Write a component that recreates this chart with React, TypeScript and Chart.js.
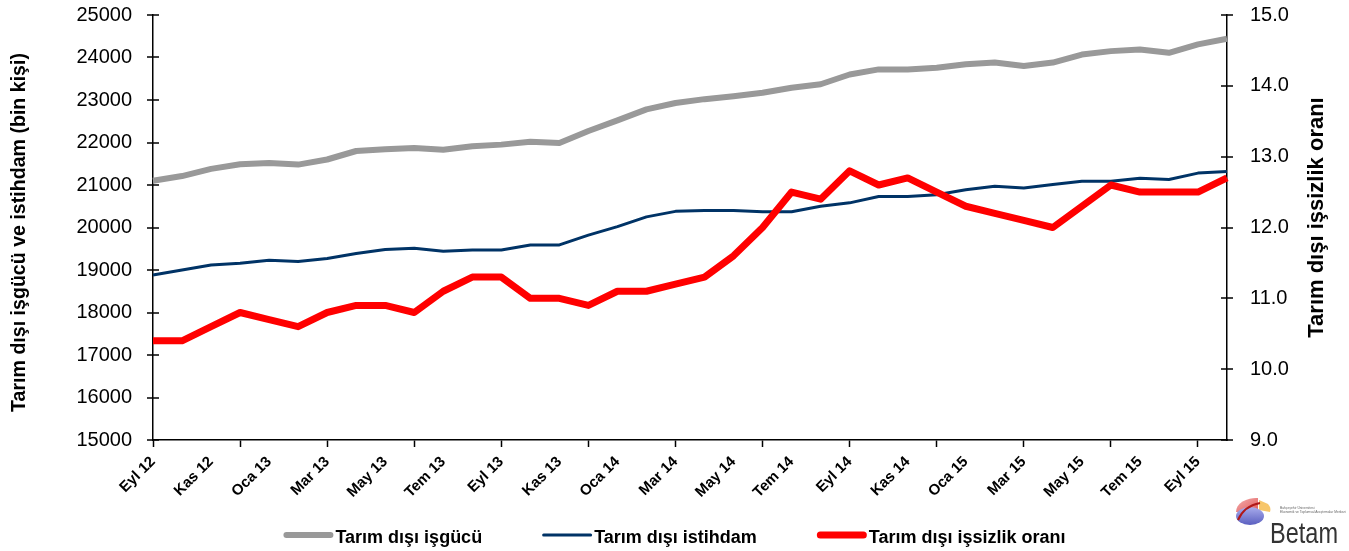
import React, { useEffect, useRef } from 'react';
import { Chart, registerables } from 'chart.js';

Chart.register(...registerables);

const FONT = '"Liberation Sans", Arial, Helvetica, sans-serif';

// Months from Eyl 12 to Eki 15
const monthLabels = [
  'Eyl 12', 'Eki 12', 'Kas 12', 'Ara 12', 'Oca 13', 'Şub 13', 'Mar 13', 'Nis 13', 'May 13', 'Haz 13',
  'Tem 13', 'Ağu 13', 'Eyl 13', 'Eki 13', 'Kas 13', 'Ara 13', 'Oca 14', 'Şub 14', 'Mar 14', 'Nis 14',
  'May 14', 'Haz 14', 'Tem 14', 'Ağu 14', 'Eyl 14', 'Eki 14', 'Kas 14', 'Ara 14', 'Oca 15', 'Şub 15',
  'Mar 15', 'Nis 15', 'May 15', 'Haz 15', 'Tem 15', 'Ağu 15', 'Eyl 15', 'Eki 15',
];

// Tarım dışı işgücü (bin kişi)
const laborForce = [
  21100, 21210, 21380, 21490, 21520, 21480, 21600, 21800, 21840, 21870,
  21830, 21910, 21950, 22020, 21990, 22270, 22520, 22780, 22930, 23020,
  23090, 23170, 23290, 23370, 23600, 23720, 23720, 23760, 23840, 23880,
  23800, 23880, 24070, 24150, 24190, 24110, 24310, 24440,
];

// Tarım dışı istihdam (bin kişi)
const employment = [
  18880, 19000, 19120, 19160, 19230, 19200, 19270, 19390, 19480, 19510,
  19440, 19470, 19470, 19590, 19590, 19820, 20020, 20250, 20380, 20400,
  20400, 20370, 20370, 20500, 20580, 20730, 20730, 20770, 20890, 20970,
  20930, 21010, 21090, 21090, 21160, 21130, 21280, 21320,
];

// Tarım dışı işsizlik oranı (%)
const unemploymentRate = [
  10.4, 10.4, 10.6, 10.8, 10.7, 10.6, 10.8, 10.9, 10.9, 10.8,
  11.1, 11.3, 11.3, 11.0, 11.0, 10.9, 11.1, 11.1, 11.2, 11.3,
  11.6, 12.0, 12.5, 12.4, 12.8, 12.6, 12.7, 12.5, 12.3, 12.2,
  12.1, 12.0, 12.3, 12.6, 12.5, 12.5, 12.5, 12.7,
];

const seriesNames = ['Tarım dışı işgücü', 'Tarım dışı istihdam', 'Tarım dışı işsizlik oranı'];
const seriesColors = ['#999999', '#003366', '#ff0000'];
const seriesWidths = [6, 3, 7];

const leftTitle = 'Tarım dışı işgücü ve istihdam (bin kişi)';
const rightTitle = 'Tarım dışı işsizlik oranı';

// Draws short cross tick marks on both value axes
const crossTicksPlugin = {
  id: 'crossTicks',
  afterDraw(chart: any) {
    const ctx = chart.ctx;
    ctx.save();
    ctx.strokeStyle = '#000';
    ctx.lineWidth = 1.5;
    ['y', 'y1'].forEach((id) => {
      const s = chart.scales[id];
      const x = id === 'y' ? s.right : s.left;
      s.ticks.forEach((_t: any, i: number) => {
        const p = Math.round(s.getPixelForTick(i));
        ctx.beginPath();
        ctx.moveTo(x - 6, p);
        ctx.lineTo(x + 6, p);
        ctx.stroke();
      });
    });
    ctx.restore();
  },
};

// Both axis titles read bottom-to-top
const axisTitlesPlugin = {
  id: 'axisTitles',
  afterDraw(chart: any) {
    const ctx = chart.ctx;
    const area = chart.chartArea;
    const midY = (area.top + area.bottom) / 2;
    const draw = (text: string, x: number, y: number, size: number) => {
      ctx.save();
      ctx.translate(x, y);
      ctx.rotate(-Math.PI / 2);
      ctx.font = `bold ${size}px ${FONT}`;
      ctx.fillStyle = '#000';
      ctx.textAlign = 'center';
      ctx.textBaseline = 'middle';
      ctx.fillText(text, 0, 0);
      ctx.restore();
    };
    draw(leftTitle, area.left - 133, midY + 5, 19.6);
    draw(rightTitle, area.right + 90, midY - 10, 22);
  },
};

const legendPlugin = {
  id: 'customLegend',
  afterDraw(chart: any) {
    const ctx = chart.ctx;
    ctx.save();
    ctx.font = `bold 18px ${FONT}`;
    const sampleW = 50;
    const textGap = 2;
    const itemGap = 60;
    const widths = seriesNames.map((n) => ctx.measureText(n).width);
    const total = widths.reduce((a, b) => a + b + sampleW + textGap, 0) + itemGap * (seriesNames.length - 1);
    let x = (chart.width - total) / 2;
    const y = 535;
    seriesNames.forEach((name, i) => {
      ctx.strokeStyle = seriesColors[i];
      ctx.lineWidth = seriesWidths[i];
      ctx.lineCap = 'round';
      ctx.beginPath();
      ctx.moveTo(x + seriesWidths[i] / 2, y);
      ctx.lineTo(x + sampleW - seriesWidths[i] / 2, y);
      ctx.stroke();
      ctx.fillStyle = '#000';
      ctx.textAlign = 'left';
      ctx.textBaseline = 'alphabetic';
      ctx.fillText(name, x + sampleW + textGap, y + 8);
      x += sampleW + textGap + widths[i] + itemGap;
    });
    ctx.restore();
  },
};

export default function App() {
  const canvasRef = useRef<HTMLCanvasElement | null>(null);

  useEffect(() => {
    if (!canvasRef.current) return;
    const chart = new Chart(canvasRef.current, {
      type: 'line',
      data: {
        labels: monthLabels,
        datasets: [
          {
            label: seriesNames[0],
            data: laborForce,
            borderColor: seriesColors[0],
            backgroundColor: seriesColors[0],
            borderWidth: seriesWidths[0],
            pointRadius: 0,
            tension: 0,
            yAxisID: 'y',
            order: 2,
            borderJoinStyle: 'round',
          },
          {
            label: seriesNames[1],
            data: employment,
            borderColor: seriesColors[1],
            backgroundColor: seriesColors[1],
            borderWidth: seriesWidths[1],
            pointRadius: 0,
            tension: 0,
            yAxisID: 'y',
            order: 1,
            borderJoinStyle: 'round',
          },
          {
            label: seriesNames[2],
            data: unemploymentRate,
            borderColor: seriesColors[2],
            backgroundColor: seriesColors[2],
            borderWidth: seriesWidths[2],
            pointRadius: 0,
            tension: 0,
            yAxisID: 'y1',
            order: 0,
            borderJoinStyle: 'round',
          },
        ],
      },
      options: {
        responsive: false,
        animation: false,
        layout: { padding: { top: 15, left: 0, right: 0, bottom: 0 } },
        plugins: {
          legend: { display: false },
          tooltip: { enabled: false },
        },
        scales: {
          x: {
            type: 'category',
            offset: false,
            grid: {
              drawOnChartArea: false,
              drawTicks: true,
              tickLength: 7,
              tickWidth: 1.5,
              tickColor: (c: any) => (c.index % 3 === 0 ? '#000' : 'rgba(0,0,0,0)'),
            },
            border: { display: true, color: '#000', width: 1.5 },
            ticks: {
              autoSkip: false,
              maxRotation: 45,
              minRotation: 45,
              padding: 6,
              color: '#000',
              font: { family: FONT, size: 15, weight: 'bold' },
              callback: (_v: any, i: number) => (i % 2 === 0 ? monthLabels[i] : ''),
            },
            afterFit: (s: any) => {
              s.height = 111;
            },
          },
          y: {
            type: 'linear',
            position: 'left',
            min: 15000,
            max: 25000,
            grid: { drawOnChartArea: false, drawTicks: true, tickLength: 21, tickColor: 'rgba(0,0,0,0)' },
            border: { display: true, color: '#000', width: 1.5 },
            ticks: {
              stepSize: 1000,
              padding: 0,
              color: '#000',
              font: { family: FONT, size: 20 },
              callback: (v: any) => String(v),
            },
            afterFit: (s: any) => {
              s.width = 153;
            },
          },
          y1: {
            type: 'linear',
            position: 'right',
            min: 9,
            max: 15,
            grid: { drawOnChartArea: false, drawTicks: true, tickLength: 23, tickColor: 'rgba(0,0,0,0)' },
            border: { display: true, color: '#000', width: 1.5 },
            ticks: {
              stepSize: 1,
              padding: 0,
              color: '#000',
              font: { family: FONT, size: 20 },
              callback: (v: any) => Number(v).toFixed(1),
            },
            afterFit: (s: any) => {
              s.width = 122;
            },
          },
        },
      },
      plugins: [crossTicksPlugin, axisTitlesPlugin, legendPlugin],
    } as any);
    return () => chart.destroy();
  }, []);

  return (
    <div style={{ position: 'absolute', left: 0, top: 0, width: 1349, height: 551, background: '#fff' }}>
      <canvas ref={canvasRef} width={1349} height={551} style={{ display: 'block' }} />
      <svg
        style={{ position: 'absolute', left: 1230, top: 490, overflow: 'visible' }}
        width={115}
        height={58}
        viewBox="0 0 115 58"
      >
        <defs>
          <linearGradient id="pinkG" x1="0" y1="0" x2="1" y2="1">
            <stop offset="0" stopColor="#f4b0b0" />
            <stop offset="1" stopColor="#e05a5a" />
          </linearGradient>
          <linearGradient id="blueG" x1="0" y1="0" x2="0" y2="1">
            <stop offset="0" stopColor="#a9acec" />
            <stop offset="1" stopColor="#5a5fc0" />
          </linearGradient>
        </defs>
        <path d="M6 22 A 20 14 0 0 1 28 8 L 28 22 Z" fill="url(#pinkG)" />
        <path d="M29 10 L 38 14 A 14 10 0 0 1 40 22 L 29 20 Z" fill="#f7c66a" />
        <ellipse cx="20" cy="26" rx="14" ry="9" fill="url(#blueG)" />
        <path d="M8 30 Q 14 16 30 13" stroke="#b01818" strokeWidth="2" fill="none" />
        <text x="50" y="19" fontSize="3.3" fill="#666" fontFamily={FONT}>Bahçeşehir Üniversitesi</text>
        <text x="50" y="23" fontSize="3.3" fill="#666" fontFamily={FONT}>Ekonomik ve Toplumsal Araştırmalar Merkezi</text>
        <text x="40" y="53" fontSize="29" fill="#333" fontFamily={FONT} textLength="68" lengthAdjust="spacingAndGlyphs">Betam</text>
      </svg>
    </div>
  );
}
